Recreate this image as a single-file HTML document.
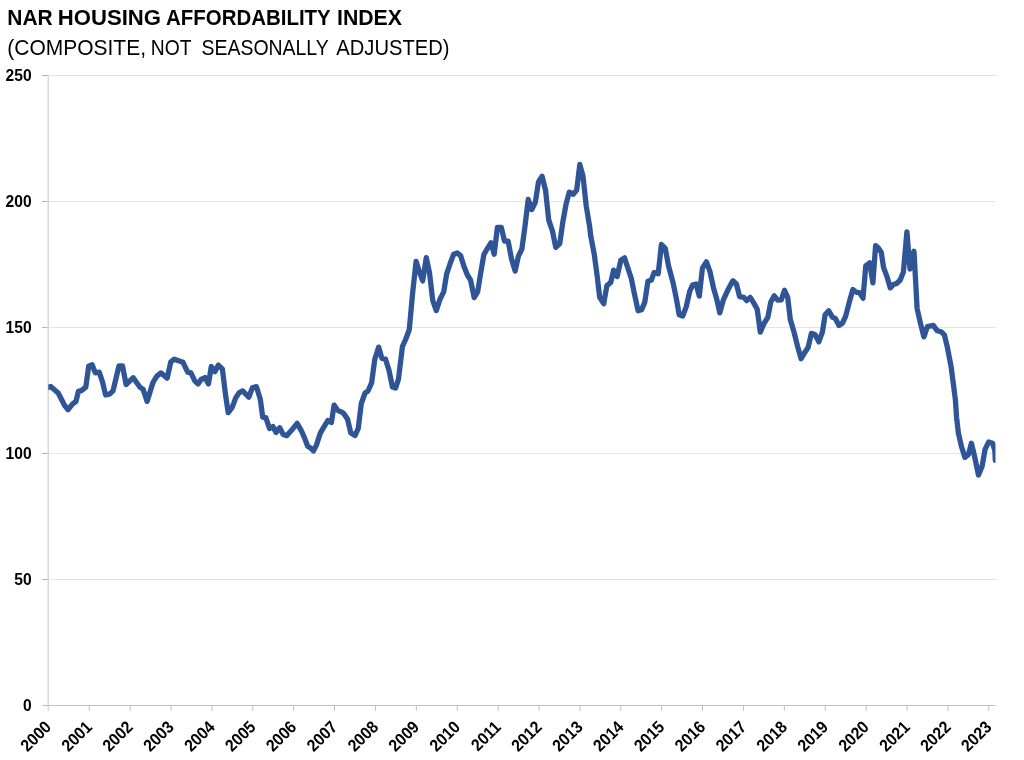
<!DOCTYPE html>
<html><head><meta charset="utf-8"><title>NAR Housing Affordability Index</title>
<style>
html,body{margin:0;padding:0;background:#fff}
svg{display:block}
text{font-family:"Liberation Sans",sans-serif;fill:#000}
.lb{font-weight:700;font-size:17px}
.t1{font-weight:700;font-size:21.2px}
.t2{font-weight:400;font-size:21.2px}
</style></head><body>
<svg width="1024" height="760" viewBox="0 0 1024 760">
<rect width="1024" height="760" fill="#fff"/>
<line x1="48.3" y1="579.5" x2="995.5" y2="579.5" stroke="#e4e4e4" stroke-width="1"/>
<line x1="48.3" y1="453.5" x2="995.5" y2="453.5" stroke="#e4e4e4" stroke-width="1"/>
<line x1="48.3" y1="327.5" x2="995.5" y2="327.5" stroke="#e4e4e4" stroke-width="1"/>
<line x1="48.3" y1="201.5" x2="995.5" y2="201.5" stroke="#e4e4e4" stroke-width="1"/>
<line x1="48.3" y1="75.5" x2="995.5" y2="75.5" stroke="#e4e4e4" stroke-width="1"/>
<line x1="42" y1="705.5" x2="48.3" y2="705.5" stroke="#b4b4b4" stroke-width="1"/>
<text class="lb" text-anchor="end" transform="translate(31.6 710.8) scale(0.92 1)">0</text>
<line x1="42" y1="579.5" x2="48.3" y2="579.5" stroke="#b4b4b4" stroke-width="1"/>
<text class="lb" text-anchor="end" transform="translate(31.6 584.8) scale(0.92 1)">50</text>
<line x1="42" y1="453.5" x2="48.3" y2="453.5" stroke="#b4b4b4" stroke-width="1"/>
<text class="lb" text-anchor="end" transform="translate(31.6 458.8) scale(0.92 1)">100</text>
<line x1="42" y1="327.5" x2="48.3" y2="327.5" stroke="#b4b4b4" stroke-width="1"/>
<text class="lb" text-anchor="end" transform="translate(31.6 332.8) scale(0.92 1)">150</text>
<line x1="42" y1="201.5" x2="48.3" y2="201.5" stroke="#b4b4b4" stroke-width="1"/>
<text class="lb" text-anchor="end" transform="translate(31.6 206.8) scale(0.92 1)">200</text>
<line x1="42" y1="75.5" x2="48.3" y2="75.5" stroke="#b4b4b4" stroke-width="1"/>
<text class="lb" text-anchor="end" transform="translate(31.6 80.8) scale(0.92 1)">250</text>
<line x1="48.3" y1="75.5" x2="48.3" y2="711" stroke="#d7d9df" stroke-width="1.6"/>
<line x1="42" y1="705.5" x2="995.5" y2="705.5" stroke="#c0c0c0" stroke-width="1"/>
<text class="lb" text-anchor="end" transform="translate(52.2 728.0) rotate(-45) scale(0.92 1)">2000</text>
<line x1="89.2" y1="705.5" x2="89.2" y2="711" stroke="#c0c0c0" stroke-width="1"/>
<text class="lb" text-anchor="end" transform="translate(93.1 728.0) rotate(-45) scale(0.92 1)">2001</text>
<line x1="130.1" y1="705.5" x2="130.1" y2="711" stroke="#c0c0c0" stroke-width="1"/>
<text class="lb" text-anchor="end" transform="translate(134.0 728.0) rotate(-45) scale(0.92 1)">2002</text>
<line x1="171.0" y1="705.5" x2="171.0" y2="711" stroke="#c0c0c0" stroke-width="1"/>
<text class="lb" text-anchor="end" transform="translate(174.9 728.0) rotate(-45) scale(0.92 1)">2003</text>
<line x1="211.9" y1="705.5" x2="211.9" y2="711" stroke="#c0c0c0" stroke-width="1"/>
<text class="lb" text-anchor="end" transform="translate(215.8 728.0) rotate(-45) scale(0.92 1)">2004</text>
<line x1="252.8" y1="705.5" x2="252.8" y2="711" stroke="#c0c0c0" stroke-width="1"/>
<text class="lb" text-anchor="end" transform="translate(256.7 728.0) rotate(-45) scale(0.92 1)">2005</text>
<line x1="293.6" y1="705.5" x2="293.6" y2="711" stroke="#c0c0c0" stroke-width="1"/>
<text class="lb" text-anchor="end" transform="translate(297.5 728.0) rotate(-45) scale(0.92 1)">2006</text>
<line x1="334.5" y1="705.5" x2="334.5" y2="711" stroke="#c0c0c0" stroke-width="1"/>
<text class="lb" text-anchor="end" transform="translate(338.4 728.0) rotate(-45) scale(0.92 1)">2007</text>
<line x1="375.4" y1="705.5" x2="375.4" y2="711" stroke="#c0c0c0" stroke-width="1"/>
<text class="lb" text-anchor="end" transform="translate(379.3 728.0) rotate(-45) scale(0.92 1)">2008</text>
<line x1="416.3" y1="705.5" x2="416.3" y2="711" stroke="#c0c0c0" stroke-width="1"/>
<text class="lb" text-anchor="end" transform="translate(420.2 728.0) rotate(-45) scale(0.92 1)">2009</text>
<line x1="457.2" y1="705.5" x2="457.2" y2="711" stroke="#c0c0c0" stroke-width="1"/>
<text class="lb" text-anchor="end" transform="translate(461.1 728.0) rotate(-45) scale(0.92 1)">2010</text>
<line x1="498.1" y1="705.5" x2="498.1" y2="711" stroke="#c0c0c0" stroke-width="1"/>
<text class="lb" text-anchor="end" transform="translate(502.0 728.0) rotate(-45) scale(0.92 1)">2011</text>
<line x1="539.0" y1="705.5" x2="539.0" y2="711" stroke="#c0c0c0" stroke-width="1"/>
<text class="lb" text-anchor="end" transform="translate(542.9 728.0) rotate(-45) scale(0.92 1)">2012</text>
<line x1="579.9" y1="705.5" x2="579.9" y2="711" stroke="#c0c0c0" stroke-width="1"/>
<text class="lb" text-anchor="end" transform="translate(583.8 728.0) rotate(-45) scale(0.92 1)">2013</text>
<line x1="620.8" y1="705.5" x2="620.8" y2="711" stroke="#c0c0c0" stroke-width="1"/>
<text class="lb" text-anchor="end" transform="translate(624.7 728.0) rotate(-45) scale(0.92 1)">2014</text>
<line x1="661.6" y1="705.5" x2="661.6" y2="711" stroke="#c0c0c0" stroke-width="1"/>
<text class="lb" text-anchor="end" transform="translate(665.5 728.0) rotate(-45) scale(0.92 1)">2015</text>
<line x1="702.5" y1="705.5" x2="702.5" y2="711" stroke="#c0c0c0" stroke-width="1"/>
<text class="lb" text-anchor="end" transform="translate(706.4 728.0) rotate(-45) scale(0.92 1)">2016</text>
<line x1="743.4" y1="705.5" x2="743.4" y2="711" stroke="#c0c0c0" stroke-width="1"/>
<text class="lb" text-anchor="end" transform="translate(747.3 728.0) rotate(-45) scale(0.92 1)">2017</text>
<line x1="784.3" y1="705.5" x2="784.3" y2="711" stroke="#c0c0c0" stroke-width="1"/>
<text class="lb" text-anchor="end" transform="translate(788.2 728.0) rotate(-45) scale(0.92 1)">2018</text>
<line x1="825.2" y1="705.5" x2="825.2" y2="711" stroke="#c0c0c0" stroke-width="1"/>
<text class="lb" text-anchor="end" transform="translate(829.1 728.0) rotate(-45) scale(0.92 1)">2019</text>
<line x1="866.1" y1="705.5" x2="866.1" y2="711" stroke="#c0c0c0" stroke-width="1"/>
<text class="lb" text-anchor="end" transform="translate(870.0 728.0) rotate(-45) scale(0.92 1)">2020</text>
<line x1="907.0" y1="705.5" x2="907.0" y2="711" stroke="#c0c0c0" stroke-width="1"/>
<text class="lb" text-anchor="end" transform="translate(910.9 728.0) rotate(-45) scale(0.92 1)">2021</text>
<line x1="947.9" y1="705.5" x2="947.9" y2="711" stroke="#c0c0c0" stroke-width="1"/>
<text class="lb" text-anchor="end" transform="translate(951.8 728.0) rotate(-45) scale(0.92 1)">2022</text>
<line x1="988.8" y1="705.5" x2="988.8" y2="711" stroke="#c0c0c0" stroke-width="1"/>
<text class="lb" text-anchor="end" transform="translate(992.7 728.0) rotate(-45) scale(0.92 1)">2023</text>
<clipPath id="c"><rect x="48.3" y="70" width="947.2" height="640"/></clipPath>
<polyline clip-path="url(#c)" points="46.0,388.1 50.7,386.5 58.2,393.0 64.5,405.3 68.1,409.7 72.4,404.2 76.0,401.4 78.4,391.4 81.4,390.6 85.8,387.1 88.7,366.1 92.1,364.7 95.3,372.9 99.2,372.1 102.4,381.6 105.6,395.0 109.5,394.2 113.0,390.8 119.0,365.8 122.5,365.8 126.1,384.5 133.2,377.7 139.8,387.1 143.0,389.2 147.1,401.4 153.0,382.4 156.9,376.1 160.9,372.9 167.2,378.1 170.8,361.9 174.3,359.2 183.0,362.3 187.7,372.1 190.9,372.9 194.8,380.8 198.0,384.0 201.1,379.5 205.0,377.6 208.5,383.9 211.3,366.5 215.0,371.6 218.4,365.0 222.4,369.2 225.5,394.5 228.2,412.7 232.3,407.1 235.8,397.7 239.0,392.9 242.6,390.9 248.8,397.2 252.4,387.7 256.4,386.6 260.3,399.2 262.7,417.1 265.8,417.7 269.5,428.5 272.9,426.6 276.1,432.4 279.7,427.7 283.2,434.5 286.7,435.6 291.1,430.8 297.1,423.4 301.4,430.8 304.5,437.9 307.7,446.2 310.9,448.2 313.5,450.9 316.4,445.1 320.3,433.2 323.5,427.7 327.8,420.6 331.4,422.5 334.1,405.1 337.7,410.3 342.4,412.4 343.9,413.7 347.6,419.3 350.7,432.7 355.0,435.5 358.2,428.7 361.3,403.5 365.0,393.2 368.1,390.8 371.6,382.9 374.8,359.2 378.7,347.1 381.9,358.4 385.5,359.2 389.0,370.3 392.4,386.9 395.6,388.1 398.5,379.0 402.4,346.6 405.8,339.0 409.3,329.5 412.6,293.2 416.1,261.3 419.2,271.4 422.7,280.9 426.3,257.6 429.5,272.7 432.7,300.3 436.3,310.6 440.2,298.7 443.7,291.9 446.6,274.2 450.0,264.0 453.5,254.5 457.1,252.9 460.6,255.6 464.2,267.1 467.4,275.0 470.6,280.2 474.2,297.6 477.7,291.6 480.8,272.3 483.9,254.5 487.6,248.2 491.1,242.7 494.2,254.2 497.4,227.4 501.3,227.4 504.5,241.1 508.1,241.1 511.6,259.3 515.1,271.1 518.4,256.1 521.9,249.0 525.0,226.1 528.2,199.5 531.8,209.5 535.3,202.4 538.5,181.9 542.1,176.3 545.6,190.5 548.7,219.8 552.4,230.8 555.8,247.4 559.8,243.5 562.9,221.4 566.1,204.0 569.3,192.1 573.2,194.2 576.7,190.1 579.8,164.5 583.0,176.3 586.2,205.6 589.8,227.7 590.7,235.8 594.2,254.0 597.1,275.3 599.7,297.4 603.7,303.7 606.9,285.6 610.8,282.4 613.6,270.2 617.1,276.6 620.8,260.3 624.5,257.9 628.2,269.0 631.3,278.5 634.5,294.2 638.1,310.8 641.6,309.7 644.8,302.1 647.9,281.3 651.4,280.0 654.2,272.4 658.2,273.7 661.4,244.5 665.3,248.4 668.5,265.8 673.2,283.2 676.4,299.0 679.2,314.8 682.7,316.1 686.2,306.9 689.8,291.1 692.5,285.1 696.1,284.0 699.3,296.1 702.4,268.2 706.4,261.9 709.9,271.3 713.5,287.9 716.7,299.0 719.8,312.9 723.4,299.8 727.7,290.3 732.9,280.8 736.4,284.0 739.6,296.6 743.9,297.4 746.6,300.6 750.2,297.4 753.7,302.9 757.2,309.2 760.3,332.1 764.0,323.5 767.9,317.1 770.8,302.1 774.2,295.8 777.7,300.2 781.3,299.8 784.5,290.3 787.7,297.4 790.3,319.5 794.0,332.1 797.6,346.4 801.1,358.7 804.6,352.7 808.2,347.2 811.4,333.4 815.0,334.5 818.8,341.9 822.4,332.1 825.1,314.8 828.7,310.8 832.4,317.1 835.5,318.7 839.0,325.5 842.5,323.0 845.6,316.4 849.3,302.1 852.9,289.5 856.4,292.3 859.5,292.7 863.0,298.2 865.8,265.8 869.7,262.7 872.9,282.9 875.6,245.6 878.4,248.0 881.3,252.4 883.5,267.4 887.1,276.9 890.3,287.9 893.4,284.5 896.6,283.5 900.2,280.0 903.4,272.1 906.9,231.8 910.0,269.0 914.0,251.3 917.1,308.5 920.3,322.7 923.9,336.9 927.4,326.6 933.3,325.4 937.3,330.8 941.1,331.8 944.4,334.9 947.5,347.9 951.1,366.8 953.9,388.2 955.4,400.0 956.6,417.8 958.4,433.1 961.4,446.2 964.9,457.4 968.5,454.4 971.4,443.2 974.4,455.6 978.5,475.1 982.1,466.3 985.0,449.7 988.6,442.0 992.7,443.2 994.9,450.9 995.3,460.4" fill="none" stroke="#2f5597" stroke-width="5.3" stroke-linejoin="round" stroke-linecap="round"/>
<text class="t1" x="7.25" y="24.8" textLength="45.45" lengthAdjust="spacingAndGlyphs">NAR</text>
<text class="t1" x="57.75" y="24.8" textLength="103.25" lengthAdjust="spacingAndGlyphs">HOUSING</text>
<text class="t1" x="166.05" y="24.8" textLength="164.65" lengthAdjust="spacingAndGlyphs">AFFORDABILITY</text>
<text class="t1" x="337.0" y="24.8" textLength="64.95" lengthAdjust="spacingAndGlyphs">INDEX</text>
<text class="t2" x="7.25" y="55.3" textLength="138.75" lengthAdjust="spacingAndGlyphs">(COMPOSITE,</text>
<text class="t2" x="150.75" y="55.3" textLength="40.7" lengthAdjust="spacingAndGlyphs">NOT</text>
<text class="t2" x="201.5" y="55.3" textLength="127.2" lengthAdjust="spacingAndGlyphs">SEASONALLY</text>
<text class="t2" x="336.3" y="55.3" textLength="113.2" lengthAdjust="spacingAndGlyphs">ADJUSTED)</text>
</svg>
</body></html>
